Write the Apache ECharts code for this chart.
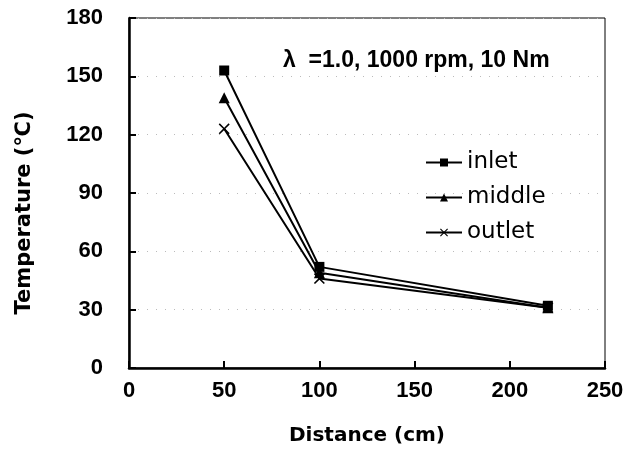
<!DOCTYPE html>
<html><head><meta charset="utf-8">
<script src="https://cdn.jsdelivr.net/npm/echarts@6/dist/echarts.min.js"></script>
<style>html,body{margin:0;padding:0;background:#fff}#c{width:642px;height:474px}</style>
</head><body><div id="c"></div>
<script>
const distances = [50, 100, 220];
const inlet = [153, 52, 32];
const middle = [139, 49, 31];
const outlet = [123, 46, 31];
const seriesNames = ['inlet', 'middle', 'outlet'];
const annotation = 'λ  =1.0, 1000 rpm, 10 Nm';

const crossPath = 'path://M0,1 L1,0 L5,4 L9,0 L10,1 L6,5 L10,9 L9,10 L5,6 L1,10 L0,9 L4,5 Z';
const NARROW = 'Liberation Sans, Arial, sans-serif';
const WIDE = 'DejaVu Sans, sans-serif';
function pts(vals){ return distances.map((d,i)=>[d, vals[i]]); }
const chart = echarts.init(document.getElementById('c'), null, {renderer:'canvas'});
const lineStyle = {color:'#000', width:2};
chart.setOption({
  animation:false,
  backgroundColor:'#fff',
  grid:{left:129, right:37, top:18, bottom:106, show:true, borderColor:'#000', borderWidth:1,
        containLabel:false, outerBoundsMode:'none'},
  title:{text:annotation, left:278, top:44, textStyle:{fontFamily:NARROW, fontSize:23, fontWeight:'bold', color:'#000'}},
  legend:{
    orient:'vertical', left:420, top:146, itemWidth:36, itemHeight:10, itemGap:12,
    textStyle:{fontFamily:WIDE, fontSize:23, color:'#000'},
    data: seriesNames
  },
  xAxis:{
    type:'value', min:0, max:250, interval:50,
    name:'Distance (cm)', nameLocation:'middle', nameGap:58,
    nameTextStyle:{fontFamily:WIDE, fontSize:20, fontWeight:'bold', color:'#000'},
    axisLine:{show:true, lineStyle:{color:'#000', width:2.5}},
    axisTick:{show:true, inside:true, length:7, lineStyle:{color:'#000', width:2}},
    axisLabel:{fontFamily:NARROW, fontSize:22, fontWeight:'bold', color:'#000', margin:12},
    splitLine:{show:false}
  },
  yAxis:{
    type:'value', min:0, max:180, interval:30,
    name:'Temperature (℃)', nameLocation:'middle', nameGap:94, nameRotate:90,
    nameTextStyle:{fontFamily:WIDE, fontSize:21, fontWeight:'bold', color:'#000', padding:[0,40,0,0]},
    axisLine:{show:true, lineStyle:{color:'#000', width:2.5}},
    axisTick:{show:true, inside:true, length:7, lineStyle:{color:'#000', width:2}},
    axisLabel:{fontFamily:NARROW, fontSize:22, fontWeight:'bold', color:'#000', margin:26},
    splitLine:{show:true, lineStyle:{color:'#bbb', width:1, type:[1,8]}}
  },
  series:[
    {name:'inlet', type:'line', data:pts(inlet), symbol:'rect', symbolSize:10,
     lineStyle, itemStyle:{color:'#000'}},
    {name:'middle', type:'line', data:pts(middle), symbol:'triangle', symbolSize:11,
     lineStyle, itemStyle:{color:'#000'}},
    {name:'outlet', type:'line', data:pts(outlet), symbol:crossPath, symbolSize:11,
     lineStyle, itemStyle:{color:'#000'}}
  ]
});
</script></body></html>
